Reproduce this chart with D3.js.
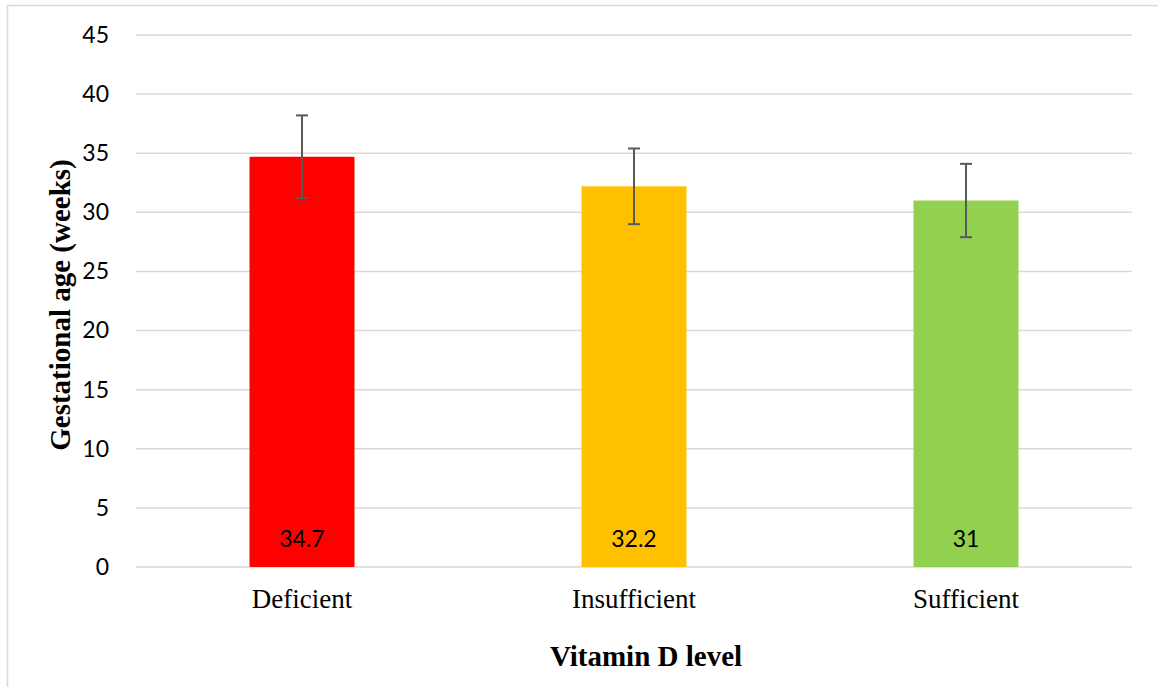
<!DOCTYPE html>
<html>
<head>
<meta charset="utf-8">
<script src="https://cdn.jsdelivr.net/npm/d3@7"></script>
<style>
  html, body { margin: 0; padding: 0; background: #fff; }
  svg { display: block; }
</style>
</head>
<body>
<svg id="chart" width="1158" height="687"></svg>
<script>
const categories = ["Deficient", "Insufficient", "Sufficient"];
const means = [34.7, 32.2, 31];
const errors = [3.5, 3.2, 3.1];
const barColors = ["#FF0000", "#FFC000", "#92D050"];
const yTicks = [0, 5, 10, 15, 20, 25, 30, 35, 40, 45];
const xTitle = "Vitamin D level";
const yTitle = "Gestational age (weeks)";

const svg = d3.select("#chart");
const W = 1158, H = 687;
const plot = { left: 136, right: 1132, top: 35, bottom: 567 };

// outer chart border (top + left visible)
svg.append("path")
  .attr("d", `M7.5,${H} L7.5,5.5 L${W},5.5`)
  .attr("fill", "none").attr("stroke", "#d9d9d9").attr("stroke-width", 1.5);

const x = d3.scaleBand().domain(categories)
  .range([plot.left, plot.right])
  .paddingInner(0.6837).paddingOuter(0.34185);
const y = d3.scaleLinear().domain([0, 45]).range([plot.bottom, plot.top]);

// gridlines
svg.append("g").selectAll("line").data(yTicks).join("line")
  .attr("x1", plot.left).attr("x2", plot.right)
  .attr("y1", d => y(d)).attr("y2", d => y(d))
  .attr("stroke", "#d9d9d9").attr("stroke-width", 1.5);

// y axis tick labels
const yAxis = d3.axisLeft(y).tickValues(yTicks).tickSize(0).tickPadding(0);
const gy = svg.append("g").attr("transform", `translate(109,0)`).call(yAxis);
gy.select(".domain").remove();
gy.selectAll("text")
  .attr("font-family", "Lato, 'Open Sans', sans-serif")
  .attr("font-size", 23).attr("fill", "#000");

// bars
const data = categories.map((c, i) => ({ c, v: means[i], e: errors[i], col: barColors[i] }));
svg.append("g").selectAll("rect").data(data).join("rect")
  .attr("x", d => x(d.c)).attr("width", x.bandwidth())
  .attr("y", d => y(d.v)).attr("height", d => y(0) - y(d.v))
  .attr("fill", d => d.col);

// error bars
const eb = svg.append("g").attr("stroke", "#595959").attr("stroke-width", 2).attr("fill", "none");
data.forEach(d => {
  const cx = x(d.c) + x.bandwidth() / 2;
  eb.append("line").attr("x1", cx).attr("x2", cx).attr("y1", y(d.v + d.e)).attr("y2", y(d.v - d.e));
  eb.append("line").attr("x1", cx - 6).attr("x2", cx + 6).attr("y1", y(d.v + d.e)).attr("y2", y(d.v + d.e));
  eb.append("line").attr("x1", cx - 6).attr("x2", cx + 6).attr("y1", y(d.v - d.e)).attr("y2", y(d.v - d.e));
});

// data labels
svg.append("g").selectAll("text").data(data).join("text")
  .attr("x", d => x(d.c) + x.bandwidth() / 2)
  .attr("y", y(0) - 20)
  .attr("text-anchor", "middle")
  .attr("font-family", "Lato, 'Open Sans', sans-serif")
  .attr("font-size", 23).attr("fill", "#000")
  .text(d => d.v);

// x axis category labels
const xAxis = d3.axisBottom(x).tickSize(0).tickPadding(0);
const gx = svg.append("g").attr("transform", `translate(0,${plot.bottom})`).call(xAxis);
gx.select(".domain").remove();
gx.selectAll("text")
  .attr("dy", 0).attr("y", 41)
  .attr("font-family", "'Liberation Serif', 'Times New Roman', serif")
  .attr("font-size", 27).attr("fill", "#000");

// axis titles
svg.append("text")
  .attr("x", 646).attr("y", 666)
  .attr("text-anchor", "middle")
  .attr("font-family", "'Liberation Serif', 'Times New Roman', serif")
  .attr("font-weight", "bold").attr("font-size", 29).attr("fill", "#000")
  .text(xTitle);

svg.append("text")
  .attr("transform", "translate(70,305) rotate(-90)")
  .attr("text-anchor", "middle")
  .attr("font-family", "'Liberation Serif', 'Times New Roman', serif")
  .attr("font-weight", "bold").attr("font-size", 29).attr("fill", "#000")
  .text(yTitle);
</script>
</body>
</html>
